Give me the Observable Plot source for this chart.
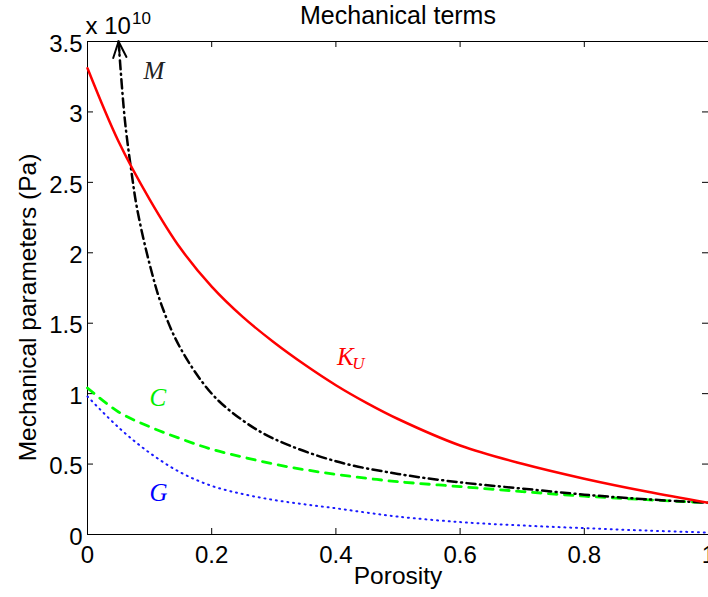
<!DOCTYPE html>
<html><head><meta charset="utf-8">
<script src="https://cdn.jsdelivr.net/npm/d3@7"></script>
<script src="https://cdn.jsdelivr.net/npm/@observablehq/plot@0.6"></script>
<style>html,body{margin:0;padding:0;background:#fff;} #chart{width:708px;height:597px;overflow:hidden}</style>
</head><body><div id="chart"></div>
<script>
// Data (values in units of 1e10 Pa)
const porosity = [0,0.05,0.1,0.15,0.2,0.25,0.3,0.35,0.4,0.45,0.5,0.6,0.7,0.8,0.9,1.0];
const KU   = [3.31,2.79,2.38,2.03,1.76,1.545,1.365,1.205,1.06,0.933,0.82,0.632,0.502,0.396,0.305,0.225];
const Cval = [1.04,0.87,0.765,0.68,0.605,0.55,0.5,0.46,0.427,0.399,0.375,0.34,0.305,0.272,0.247,0.225];
const Gval = [0.98,0.76,0.58,0.44,0.345,0.287,0.245,0.214,0.186,0.155,0.127,0.088,0.064,0.045,0.028,0.014];
const porosityM = [0.05,0.06,0.07,0.08,0.1,0.12,0.15,0.2,0.25,0.3,0.4,0.5,0.6,0.7,0.8,0.9,1.0];
const Mval = [3.5,2.95,2.6,2.31,1.92,1.62,1.32,1.0,0.81,0.68,0.52,0.43,0.37,0.326,0.283,0.25,0.225];
const xTicks = [0,0.2,0.4,0.6,0.8,1];
const yTicks = [0,0.5,1,1.5,2,2.5,3,3.5];
const xDomain = [0,1];
const yDomain = [0,3.5];
const titleText = "Mechanical terms";
const xLabel = "Porosity";
const yLabel = "Mechanical parameters (Pa)";
const exponentBase = "x 10";
const exponentPower = "10";
// curve labels (positions in data units)
const curveLabels = [
  {text:"M", x:0.09, y:3.294, key:"M"},
  {text:"K", x:0.4016, y:1.26, key:"K"},
  {text:"C", x:0.1, y:0.969, key:"C"},
  {text:"G", x:0.1, y:0.298, key:"G"}
];
const subLabels = [{text:"U", x:0.4265, y:1.214, key:"K"}];

const colors = {K:"#ff0000", C:"#00ee00", G:"#0000ff", M:"#222222"};

const series = (xs, ys) => xs.map((x,i)=>({x, y: ys[i]}));
const dKU = series(porosity, KU), dC = series(porosity, Cval), dG = series(porosity, Gval), dM = series(porosityM, Mval);
const arrowData = [{x1: porosityM[1], y1: Mval[1], x2: porosityM[0], y2: Mval[0]}];

const W = 708, H = 597, mL = 87, mR = 0, mT = 41, mB = 63;
const fw = W - mL - mR, fh = H - mT - mB;
const sans = "'Liberation Sans', Arial, Helvetica, sans-serif";
const serif = "'Liberation Serif', 'Times New Roman', serif";

const chart = Plot.plot({
  width: W, height: H,
  marginLeft: mL, marginRight: mR, marginTop: mT, marginBottom: mB,
  style: {fontFamily: sans, fontSize: "24px", background: "white", color: "black", overflow: "hidden"},
  x: {domain: xDomain},
  y: {domain: yDomain},
  marks: [
    Plot.axisX(xTicks, {tickSize: 0, tickPadding: 11, tickFormat: d => String(d), label: null, fontVariant: "normal"}),
    Plot.axisY(yTicks, {tickSize: 0, tickPadding: 5, dy: 2.5, tickFormat: d => String(d), label: null, fontVariant: "normal"}),
    Plot.tickY(yTicks, {y: d => d, insetRight: fw - 6, stroke: "black", strokeWidth: 1}),
    Plot.tickY(yTicks, {y: d => d, insetLeft: fw - 6, stroke: "black", strokeWidth: 1}),
    Plot.tickX(xTicks, {x: d => d, insetTop: fh - 6, stroke: "black", strokeWidth: 1}),
    Plot.tickX(xTicks, {x: d => d, insetBottom: fh - 6, stroke: "black", strokeWidth: 1}),
    Plot.ruleY(yDomain, {stroke: "black", strokeWidth: 1}),
    Plot.ruleX([xDomain[0]], {stroke: "black", strokeWidth: 1}),
    Plot.line(dG, {x:"x", y:"y", stroke: "#1a1aff", strokeWidth: 2, strokeDasharray: "1,4.8", curve: "catmull-rom"}),
    Plot.line(dC, {x:"x", y:"y", stroke: "#00ff00", strokeWidth: 2.8, strokeDasharray: "8.5,7.5", curve: "catmull-rom"}),
    Plot.line(dM, {x:"x", y:"y", stroke: "black", strokeWidth: 2.5, strokeDasharray: "9,4.5,1,4.5", curve: "catmull-rom"}),
    Plot.line(dKU, {x:"x", y:"y", stroke: "#ff0000", strokeWidth: 2.5, curve: "catmull-rom"}),
    Plot.arrow(arrowData, {x1:"x1", y1:"y1", x2:"x2", y2:"y2", stroke: "black", strokeWidth: 2, headLength: 13, headAngle: 45, insetStart: 66}),
    ...curveLabels.map(l => Plot.text([l], {x:"x", y:"y", text:"text", fill: colors[l.key], fontFamily: serif, fontStyle: "italic", fontSize: 25, textAnchor: "start", lineAnchor: "middle"})),
    ...subLabels.map(l => Plot.text([l], {x:"x", y:"y", text:"text", fill: colors[l.key], fontFamily: serif, fontStyle: "italic", fontSize: 17, textAnchor: "start", lineAnchor: "middle"})),
    Plot.text([titleText], {text: d => d, frameAnchor: "top", dy: -26, fontSize: 25, fontFamily: sans, textAnchor: "middle", lineAnchor: "middle"}),
    Plot.text([xLabel], {text: d => d, frameAnchor: "bottom", dy: 41.2, fontSize: 24.5, fontFamily: sans, textAnchor: "middle", lineAnchor: "middle"}),
    Plot.text([yLabel], {text: d => d, frameAnchor: "left", dx: -59.8, dy: 307 - (mT + fh/2), rotate: -90, fontSize: 24.5, fontFamily: sans, textAnchor: "middle", lineAnchor: "middle"}),
    Plot.text([exponentBase], {text: d => d, frameAnchor: "top-left", dx: -2, dy: -15.5, fontSize: 24, fontFamily: sans, textAnchor: "start", lineAnchor: "middle"}),
    Plot.text([exponentPower], {text: d => d, frameAnchor: "top-left", dx: 44.5, dy: -22.5, fontSize: 17, fontFamily: sans, textAnchor: "start", lineAnchor: "middle"})
  ]
});
document.getElementById("chart").appendChild(chart);
</script>
</body></html>
